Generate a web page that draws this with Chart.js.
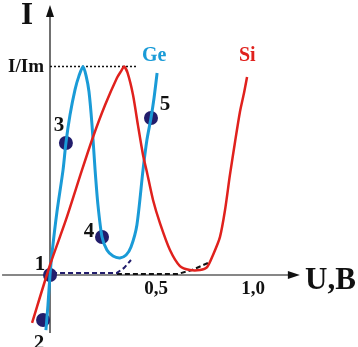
<!DOCTYPE html>
<html>
<head>
<meta charset="utf-8">
<script src="https://cdn.jsdelivr.net/npm/chart.js@4.4.0/dist/chart.umd.min.js"></script>
<style>
	html, body { margin: 0; padding: 0; background: #fff; }
	#chart { display: block; }
</style>
</head>
<body>
<canvas id="chart" width="358" height="347"></canvas>
<script>
// U (В) and I/Im
const geU = [-0.020, -0.010, 0, 0.010, 0.034, 0.064, 0.078, 0.098, 0.123, 0.142, 0.162, 0.177, 0.191, 0.206, 0.221, 0.235, 0.255, 0.279, 0.309, 0.343, 0.373, 0.397, 0.426, 0.456, 0.475, 0.495, 0.510, 0.525];
const geI = [-0.264, -0.144, 0, 0.106, 0.302, 0.504, 0.633, 0.767, 0.890, 0.955, 1.0, 0.955, 0.880, 0.719, 0.504, 0.336, 0.182, 0.120, 0.091, 0.082, 0.096, 0.134, 0.240, 0.504, 0.647, 0.753, 0.849, 0.969];

const siU = [-0.088, 0, 0.078, 0.157, 0.211, 0.270, 0.328, 0.350, 0.363, 0.380, 0.407, 0.431, 0.456, 0.475, 0.505, 0.539, 0.588, 0.637, 0.686, 0.735, 0.770, 0.799, 0.833, 0.858, 0.882, 0.907, 0.931, 0.951, 0.966];
const siI = [-0.230, 0.048, 0.264, 0.504, 0.662, 0.815, 0.945, 0.980, 1.0, 0.970, 0.863, 0.719, 0.576, 0.494, 0.360, 0.249, 0.120, 0.043, 0.024, 0.024, 0.038, 0.096, 0.182, 0.312, 0.480, 0.638, 0.782, 0.873, 0.950];

// пунктир: туннельный ток
const tunU = [0.010, 0.328, 0.363, 0.397];
const tunI = [0.010, 0.010, 0.034, 0.072];
// пунктир: избыточный ток
const excU = [0.328, 0.627, 0.696, 0.775];
const excI = [0.005, 0.005, 0.024, 0.058];

// отмеченные точки 1..5
const markNames = ['1', '2', '3', '4', '5'];
const markU = [0, -0.034, 0.078, 0.255, 0.495];
const markI = [0, -0.216, 0.633, 0.182, 0.753];

const tickValues = [0.5, 1.0];
const tickLabels = ['0,5', '1,0'];

const colors = {
	ge: '#1a9bd7',
	si: '#e0211d',
	navy: '#221d6c',
	ink: '#111'
};

const toPoints = (xs, ys) => xs.map((x, i) => ({ x: x, y: ys[i] }));

const serif = '"Liberation Serif", "DejaVu Serif", serif';

const axesPlugin = {
	id: 'axesPlugin',
	beforeDatasetsDraw(chart) {
		const ctx = chart.ctx;
		const sx = chart.scales.x;
		const sy = chart.scales.y;
		const x0 = sx.getPixelForValue(0);
		const y0 = sy.getPixelForValue(0);

		ctx.save();
		ctx.strokeStyle = colors.ink;
		ctx.fillStyle = colors.ink;
		ctx.lineWidth = 1.2;

		// ось U
		const xEnd = sx.getPixelForValue(1.225);
		ctx.beginPath();
		ctx.moveTo(sx.getPixelForValue(-0.235), y0);
		ctx.lineTo(xEnd - 6, y0);
		ctx.stroke();
		ctx.beginPath();
		ctx.moveTo(xEnd, y0);
		ctx.lineTo(xEnd - 12, y0 - 4);
		ctx.lineTo(xEnd - 12, y0 + 4);
		ctx.closePath();
		ctx.fill();

		// ось I
		const yEnd = sy.getPixelForValue(1.295);
		ctx.beginPath();
		ctx.moveTo(x0, sy.getPixelForValue(-0.278));
		ctx.lineTo(x0, yEnd + 6);
		ctx.stroke();
		ctx.beginPath();
		ctx.moveTo(x0, yEnd);
		ctx.lineTo(x0 - 4, yEnd + 12);
		ctx.lineTo(x0 + 4, yEnd + 12);
		ctx.closePath();
		ctx.fill();

		// уровень Im
		const yIm = sy.getPixelForValue(1);
		ctx.setLineDash([2, 2]);
		ctx.lineWidth = 1.5;
		ctx.beginPath();
		ctx.moveTo(x0, yIm);
		ctx.lineTo(sx.getPixelForValue(0.431), yIm);
		ctx.stroke();
		ctx.restore();
	},
	afterDatasetsDraw(chart) {
		const ctx = chart.ctx;
		const sx = chart.scales.x;
		const sy = chart.scales.y;
		const x0 = sx.getPixelForValue(0);
		const y0 = sy.getPixelForValue(0);

		ctx.save();
		ctx.textBaseline = 'alphabetic';
		ctx.fillStyle = colors.ink;

		ctx.font = 'bold 31px ' + serif;
		ctx.textAlign = 'left';
		ctx.fillText('I', 21, 24);
		ctx.fillText('U,B', 305, 289);

		ctx.font = 'bold 19px ' + serif;
		ctx.textAlign = 'right';
		ctx.fillText('I/Im', x0 - 6, sy.getPixelForValue(1) + 6);

		ctx.textAlign = 'center';
		tickValues.forEach((v, i) => {
			ctx.fillText(tickLabels[i], sx.getPixelForValue(v) + (i === 0 ? 4 : -1), y0 + 19);
		});

		ctx.font = 'bold 20px ' + serif;
		ctx.fillStyle = colors.ge;
		ctx.textAlign = 'left';
		ctx.fillText('Ge', 142, 61);
		ctx.fillStyle = colors.si;
		ctx.fillText('Si', 239, 61);

		// подписи точек
		const offs = [[-10, -12], [-4, 22], [-7, -19], [-13, -7], [14, -15]];
		ctx.font = 'bold 21px ' + serif;
		ctx.fillStyle = colors.ink;
		ctx.textAlign = 'center';
		markNames.forEach((name, i) => {
			const px = sx.getPixelForValue(markU[i]) + offs[i][0];
			const py = sy.getPixelForValue(markI[i]) + offs[i][1];
			ctx.fillText(name, px, py + 7);
		});
		ctx.restore();
	}
};

document.addEventListener('DOMContentLoaded', () => {
	const canvas = document.getElementById('chart');

	new Chart(canvas, {
		type: 'scatter',
		data: {
			datasets: [
				{
					label: 'Si',
					data: toPoints(siU, siI),
					showLine: true,
					borderColor: colors.si,
					borderWidth: 2.5,
					tension: 0.25,
					pointRadius: 0
				},
				{
					label: 'Ge',
					data: toPoints(geU, geI),
					showLine: true,
					borderColor: colors.ge,
					borderWidth: 3,
					tension: 0.25,
					pointRadius: 0
				},
				{
					label: 'tunnel',
					data: toPoints(tunU, tunI),
					showLine: true,
					borderColor: colors.navy,
					borderWidth: 2,
					borderDash: [5, 3],
					tension: 0,
					pointRadius: 0
				},
				{
					label: 'excess',
					data: toPoints(excU, excI),
					showLine: true,
					borderColor: colors.ink,
					borderWidth: 2,
					borderDash: [5, 3],
					tension: 0,
					pointRadius: 0
				},
				{
					label: 'points',
					data: toPoints(markU, markI),
					showLine: false,
					pointRadius: 7,
					pointBackgroundColor: colors.navy,
					pointBorderColor: colors.navy,
					pointBorderWidth: 0
				}
			]
		},
		options: {
			responsive: false,
			animation: false,
			layout: { padding: 0, autoPadding: false },
			scales: {
				x: { type: 'linear', min: -0.2451, max: 1.5098, display: false },
				y: { type: 'linear', min: -0.3453, max: 1.3189, display: false }
			},
			plugins: {
				legend: { display: false },
				tooltip: { enabled: false }
			}
		},
		plugins: [axesPlugin]
	});
});
</script>
</body>
</html>
